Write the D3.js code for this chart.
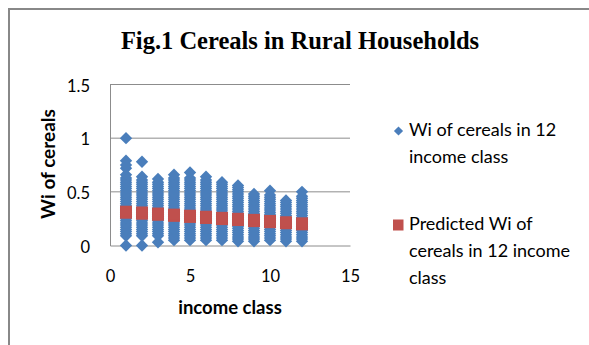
<!DOCTYPE html>
<html>
<head>
<script src="https://cdn.jsdelivr.net/npm/d3@7/dist/d3.min.js"></script>
<style>
  body { margin: 0; background: #fff; }
  text { font-family: "Lato", "Liberation Sans", sans-serif; fill: #000; }
</style>
</head>
<body>
<svg id="chart" width="589" height="345"></svg>
<script>
// Wi of cereals, observed households, one array per income class
var classes = [1, 2, 3, 4, 5, 6, 7, 8, 9, 10, 11, 12];
var observed = [
  [0, 0.09, 0.11, 0.13, 0.15, 0.17, 0.19, 0.21, 0.23, 0.25, 0.27, 0.29, 0.31, 0.33, 0.35, 0.37, 0.39, 0.41, 0.43, 0.45, 0.47, 0.49, 0.51, 0.53, 0.55, 0.57, 0.59, 0.61, 0.63, 0.66, 0.72, 0.75, 0.79, 1.0],
  [0, 0.09, 0.11, 0.13, 0.15, 0.17, 0.19, 0.21, 0.23, 0.25, 0.27, 0.29, 0.31, 0.33, 0.35, 0.37, 0.39, 0.41, 0.43, 0.45, 0.47, 0.49, 0.51, 0.53, 0.55, 0.57, 0.59, 0.61, 0.64, 0.78],
  [0.03, 0.09, 0.11, 0.13, 0.15, 0.17, 0.19, 0.21, 0.23, 0.25, 0.27, 0.29, 0.31, 0.33, 0.35, 0.37, 0.39, 0.41, 0.43, 0.45, 0.47, 0.49, 0.51, 0.53, 0.55, 0.57, 0.59, 0.62],
  [0.05, 0.07, 0.09, 0.11, 0.13, 0.15, 0.17, 0.19, 0.21, 0.23, 0.25, 0.27, 0.29, 0.31, 0.33, 0.35, 0.37, 0.39, 0.41, 0.43, 0.45, 0.47, 0.49, 0.51, 0.53, 0.55, 0.57, 0.59, 0.61, 0.63, 0.66],
  [0.05, 0.07, 0.09, 0.11, 0.13, 0.15, 0.17, 0.19, 0.21, 0.23, 0.25, 0.27, 0.29, 0.31, 0.33, 0.35, 0.37, 0.39, 0.41, 0.43, 0.45, 0.47, 0.49, 0.51, 0.53, 0.55, 0.57, 0.59, 0.61, 0.63, 0.68],
  [0.05, 0.07, 0.09, 0.11, 0.13, 0.15, 0.17, 0.19, 0.21, 0.23, 0.25, 0.27, 0.29, 0.31, 0.33, 0.35, 0.37, 0.39, 0.41, 0.43, 0.45, 0.47, 0.49, 0.51, 0.53, 0.55, 0.57, 0.59, 0.61, 0.64],
  [0.05, 0.07, 0.09, 0.11, 0.13, 0.15, 0.17, 0.19, 0.21, 0.23, 0.25, 0.27, 0.29, 0.31, 0.33, 0.35, 0.37, 0.39, 0.41, 0.43, 0.45, 0.47, 0.49, 0.51, 0.53, 0.55, 0.57, 0.59],
  [0.04, 0.06, 0.08, 0.10, 0.12, 0.14, 0.16, 0.18, 0.20, 0.22, 0.24, 0.26, 0.28, 0.30, 0.32, 0.34, 0.36, 0.38, 0.40, 0.42, 0.44, 0.46, 0.48, 0.50, 0.52, 0.54, 0.56],
  [0.04, 0.06, 0.08, 0.10, 0.12, 0.14, 0.16, 0.18, 0.20, 0.22, 0.24, 0.26, 0.28, 0.30, 0.32, 0.34, 0.36, 0.38, 0.40, 0.42, 0.44, 0.46, 0.48],
  [0.05, 0.07, 0.09, 0.11, 0.13, 0.15, 0.17, 0.19, 0.21, 0.23, 0.25, 0.27, 0.29, 0.31, 0.33, 0.35, 0.37, 0.39, 0.41, 0.43, 0.45, 0.47, 0.51],
  [0.04, 0.06, 0.08, 0.10, 0.12, 0.14, 0.16, 0.18, 0.20, 0.22, 0.24, 0.26, 0.28, 0.30, 0.32, 0.34, 0.36, 0.38, 0.40, 0.42],
  [0.04, 0.06, 0.08, 0.10, 0.12, 0.14, 0.16, 0.18, 0.20, 0.22, 0.24, 0.26, 0.28, 0.30, 0.32, 0.34, 0.36, 0.38, 0.40, 0.42, 0.44, 0.46, 0.50]
];
// predicted Wi per class
var predicted = [
  [0.296, 0.305, 0.315, 0.324],
  [0.287, 0.297, 0.307, 0.317],
  [0.277, 0.287, 0.297, 0.307],
  [0.267, 0.277, 0.287, 0.297],
  [0.257, 0.267, 0.277, 0.287],
  [0.247, 0.257, 0.267, 0.277],
  [0.237, 0.247, 0.257, 0.267],
  [0.228, 0.238, 0.248, 0.258],
  [0.218, 0.228, 0.238, 0.248],
  [0.208, 0.218, 0.228, 0.238],
  [0.198, 0.207, 0.217, 0.226],
  [0.188, 0.197, 0.207, 0.216]
];
var xTicks = [0, 5, 10, 15];
var yTicks = [0, 0.5, 1, 1.5];
var legendLabels = [
  ["Wi of cereals in 12", "income class"],
  ["Predicted Wi of", "cereals in 12 income", "class"]
];

var blue = "#4a7ebb", red = "#c0504d", grid = "#8c8c8c";

var svg = d3.select("#chart");
svg.append("rect").attr("width", 589).attr("height", 345).attr("fill", "#fff");

// outer frame (only top and left visible)
svg.append("path")
    .attr("d", "M9,345V9H589")
    .attr("fill", "none")
    .attr("stroke", "#888")
    .attr("stroke-width", 2);

var x = d3.scaleLinear().domain([0, 15]).range([110, 350]);
var y = d3.scaleLinear().domain([0, 1.5]).range([245.5, 84.5]);

// gridlines
svg.append("g").selectAll("line")
    .data(yTicks.filter(function(d) { return d > 0; }))
    .enter().append("line")
    .attr("x1", x(0)).attr("x2", x(15))
    .attr("y1", function(d) { return y(d); })
    .attr("y2", function(d) { return y(d); })
    .attr("stroke", grid).attr("stroke-width", 1);

// axes
var yAxis = svg.append("g")
    .attr("transform", "translate(" + x(0) + ",0)")
    .call(d3.axisLeft(y).tickValues(yTicks).tickSize(0).tickPadding(20)
        .tickFormat(function(d) { return d; }));
var xAxis = svg.append("g")
    .attr("transform", "translate(0," + y(0) + ")")
    .call(d3.axisBottom(x).tickValues(xTicks).tickSize(0).tickPadding(24));
[xAxis, yAxis].forEach(function(a) {
  a.select(".domain").attr("stroke", grid);
  a.selectAll("text").attr("font-size", 16.5).style("font-family", "Lato").attr("fill", "#000");
});
xAxis.selectAll("text").attr("dy", 0).attr("y", 36.5);
yAxis.selectAll("text").attr("dy", 6.5);

// observed diamonds
var diamond = "M0,-6.2L6.2,0L0,6.2L-6.2,0Z";
var obsPts = [];
observed.forEach(function(vals, i) {
  vals.forEach(function(v) { obsPts.push({ c: classes[i], v: v }); });
});
svg.append("g").selectAll("path")
    .data(obsPts)
    .enter().append("path")
    .attr("d", diamond)
    .attr("transform", function(d) { return "translate(" + x(d.c) + "," + y(d.v) + ")"; })
    .attr("fill", blue);

// predicted squares
var predPts = [];
predicted.forEach(function(vals, i) {
  vals.forEach(function(v) { predPts.push({ c: classes[i], v: v }); });
});
svg.append("g").selectAll("rect")
    .data(predPts)
    .enter().append("rect")
    .attr("x", function(d) { return x(d.c) - 6; })
    .attr("y", function(d) { return y(d.v) - 5; })
    .attr("width", 12).attr("height", 10)
    .attr("fill", red);

// title
svg.append("text")
    .attr("x", 300).attr("y", 49)
    .attr("text-anchor", "middle")
    .style("font-family", "'Liberation Serif', serif")
    .attr("font-weight", "bold")
    .attr("font-size", 24.5)
    .text("Fig.1 Cereals in Rural Households");

// axis titles
svg.append("text")
    .attr("transform", "translate(55,164) rotate(-90)")
    .attr("text-anchor", "middle")
    .attr("font-weight", "bold")
    .attr("font-size", 19)
    .text("Wi of cereals");
svg.append("text")
    .attr("x", 230).attr("y", 314)
    .attr("text-anchor", "middle")
    .attr("font-weight", "bold")
    .attr("font-size", 18.5)
    .text("income class");

// legend
var legY = [136, 230];
var leg = svg.append("g");
leg.append("path")
    .attr("d", "M0,-4.6L4.6,0L0,4.6L-4.6,0Z")
    .attr("transform", "translate(398.5,131)")
    .attr("fill", blue);
leg.append("rect")
    .attr("x", 393).attr("y", 219.5).attr("width", 10.5).attr("height", 11)
    .attr("fill", red);
legendLabels.forEach(function(lines, i) {
  var t = leg.append("text")
      .attr("x", 409).attr("y", legY[i])
      .attr("font-size", 18);
  lines.forEach(function(s, j) {
    t.append("tspan").attr("x", 409).attr("dy", j === 0 ? 0 : 27).text(s);
  });
});
</script>
</body>
</html>
